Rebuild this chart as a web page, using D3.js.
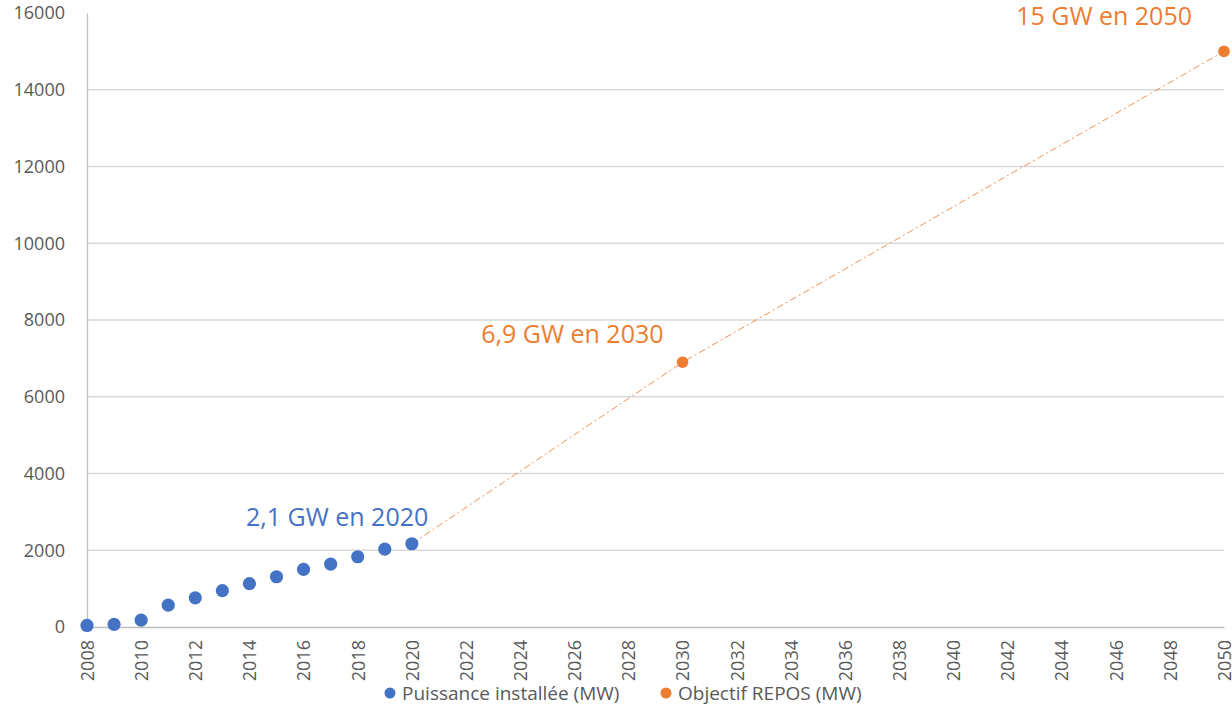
<!DOCTYPE html>
<html><head><meta charset="utf-8">
<script src="https://cdn.jsdelivr.net/npm/d3@7/dist/d3.min.js"></script>
<style>body{margin:0;background:#fff;}svg{display:block;font-family:"Open Sans",sans-serif;}</style>
</head><body><svg id="c" width="1232" height="705"></svg>
<script>
const years = [2008,2009,2010,2011,2012,2013,2014,2015,2016,2017,2018,2019,2020];
const installed = [40,70,180,570,760,950,1130,1310,1500,1640,1830,2030,2170];
const targetYears = [2020,2030,2050];
const targetValues = [2170,6900,15000];
const yTicks = [0,2000,4000,6000,8000,10000,12000,14000,16000];
const xTicks = d3.range(2008,2051,2);
const annotations = [
  {year:2017.24, value:2632, text:"2,1 GW en 2020", color:"#4472C4"},
  {year:2025.93, value:7400, text:"6,9 GW en 2030", color:"#ED7D31"},
  {year:2045.57, value:15687, text:"15 GW en 2050", color:"#ED7D31"}
];
const legendItems = [
  {label:"Puissance installée (MW)", color:"#4472C4"},
  {label:"Objectif REPOS (MW)", color:"#ED7D31"}
];

const svg = d3.select("#c");
const L=87, R=1224, T=13, B=627;
const x = d3.scaleLinear().domain([2008,2050]).range([L,R]);
const y = d3.scaleLinear().domain([0,16000]).range([B,T]);

// gridlines
svg.append("g").selectAll("line").data(yTicks.filter(d=>d>0 && d<16000)).join("line")
  .attr("x1",L).attr("x2",R).attr("y1",d=>y(d)).attr("y2",d=>y(d))
  .attr("stroke","#d9d9d9").attr("stroke-width",1.3);

// y axis
const ya = svg.append("g").attr("transform",`translate(${L},0)`)
  .call(d3.axisLeft(y).tickValues(yTicks).tickSize(0).tickPadding(22).tickFormat(d3.format("d")));
ya.select(".domain").attr("stroke","#bfbfbf").attr("stroke-width",1.3);
ya.selectAll("text").attr("font-size",18).attr("fill","#595959").attr("font-family","Open Sans");

// x axis
const xa = svg.append("g").attr("transform",`translate(0,${B})`)
  .call(d3.axisBottom(x).tickValues(xTicks).tickSize(0).tickFormat(d3.format("d")));
xa.select(".domain").attr("stroke","#bfbfbf").attr("stroke-width",1.3);
xa.selectAll("text").attr("font-size",18).attr("fill","#595959").attr("font-family","Open Sans")
  .attr("transform","rotate(-90)").attr("text-anchor","end").attr("dy","0.35em").attr("x",-13).attr("y",0);

// target line
const line = d3.line().x((d,i)=>x(targetYears[i])).y(d=>y(d));
svg.append("path").datum(targetValues).attr("d",line).attr("fill","none")
  .attr("stroke","#ED7D31").attr("stroke-width",1).attr("stroke-dasharray","7,3,2,3").attr("opacity",0.85);

// target dots (2030, 2050)
svg.append("g").selectAll("circle").data(targetYears.map((d,i)=>({y:d,v:targetValues[i]})).filter(d=>d.y>2020)).join("circle")
  .attr("cx",d=>x(d.y)).attr("cy",d=>y(d.v)).attr("r",5.8).attr("fill","#ED7D31");

// installed dots
svg.append("g").selectAll("circle").data(years).join("circle")
  .attr("cx",d=>x(d)).attr("cy",(d,i)=>y(installed[i])).attr("r",6.6).attr("fill","#4472C4");

// annotations
svg.append("g").selectAll("text").data(annotations).join("text")
  .attr("x",d=>x(d.year)).attr("y",d=>y(d.value)).attr("text-anchor","middle")
  .attr("font-size",25).attr("fill",d=>d.color).text(d=>d.text);

// legend
const lg = svg.append("g");
const lx = [390, 666];
legendItems.forEach((d,i)=>{
  lg.append("circle").attr("cx",lx[i]).attr("cy",693).attr("r",5.5).attr("fill",d.color);
  lg.append("text").attr("x",lx[i]+12).attr("y",693).attr("dy","0.35em").attr("font-size",19)
    .attr("fill","#595959").text(d.label);
});
</script></body></html>
